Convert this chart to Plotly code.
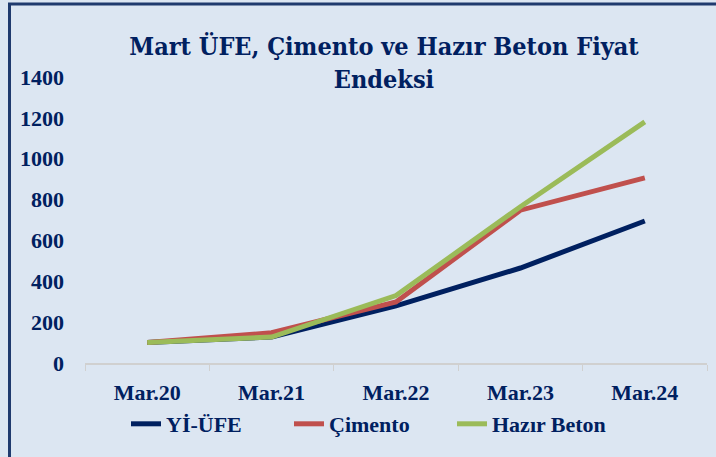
import plotly.graph_objects as go

categories = ["Mar.20", "Mar.21", "Mar.22", "Mar.23", "Mar.24"]
yi_ufe = [100, 127, 280, 465, 695]
cimento = [100, 148, 299, 748, 906]
hazir_beton = [100, 127, 330, 765, 1180]
y_ticks = [0, 200, 400, 600, 800, 1000, 1200, 1400]

NAVY = "#002060"
W, H = 716, 457
L, R, T, B = 85, 9, 77, 94

fig = go.Figure()
for name, vals, col in [("Yİ-ÜFE", yi_ufe, NAVY),
                        ("Çimento", cimento, "#C0504D"),
                        ("Hazır Beton", hazir_beton, "#9BBB59")]:
    fig.add_trace(go.Scatter(x=categories, y=vals, name=name, mode="lines",
                             line=dict(color=col, width=5)))

pw, ph = W - L - R, H - T - B
def px(x):
    return (x - L) / pw
def py(y):
    return (H - B - y) / ph

fig.add_shape(type="line", xref="paper", yref="paper", x0=px(9.5), x1=px(9.5), y0=py(3), y1=py(470),
              line=dict(color="#1F3A6E", width=3))
fig.add_shape(type="line", xref="paper", yref="paper", x0=px(8), x1=px(730), y0=py(4), y1=py(4),
              line=dict(color="#1F3A6E", width=3))

fig.update_layout(
    width=W, height=H,
    margin=dict(l=L, r=R, t=T, b=B, autoexpand=False),
    paper_bgcolor="#DCE6F2", plot_bgcolor="#DCE6F2",
    title=dict(text="<b>Mart ÜFE, Çimento ve Hazır Beton Fiyat<br>Endeksi</b>",
               x=384 / W, xanchor="center", y=1 - 55 / H, yanchor="top",
               font=dict(family="DejaVu Serif Condensed", size=25, color=NAVY)),
    font=dict(family="Liberation Serif", color=NAVY),
    showlegend=True,
    legend=dict(orientation="h", x=126 / W, xanchor="left", xref="container",
                y=1 - 424 / H, yanchor="middle", yref="container",
                entrywidth=118, entrywidthmode="pixels",
                font=dict(family="Liberation Serif", size=22, color=NAVY, weight="bold"),
                bgcolor="rgba(0,0,0,0)"),
    xaxis=dict(showgrid=False, showline=True, linecolor="#D0D0D0", linewidth=1.5,
               ticks="outside", tickson="boundaries", ticklen=6, tickcolor="#D0D0D0",
               tickfont=dict(family="Liberation Serif", size=22, color=NAVY, weight="bold"),
               ticklabelstandoff=9, range=[-0.5, 4.5], automargin=False),
    yaxis=dict(range=[0, 1400], tickvals=y_ticks, showgrid=False, zeroline=False,
               showline=False, ticks="", automargin=False,
               tickfont=dict(family="Liberation Serif", size=22, color=NAVY, weight="bold"),
               ticklabelstandoff=20),
)

fig.write_html("out.html")
